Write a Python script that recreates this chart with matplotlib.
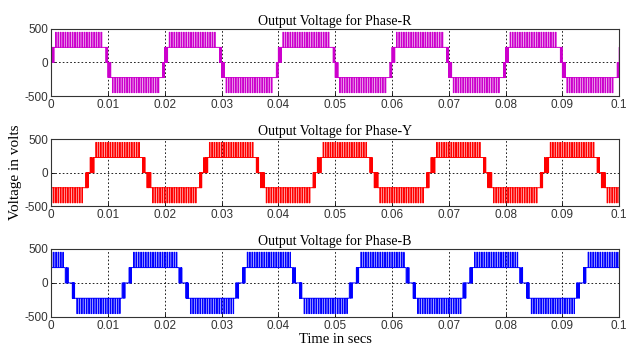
import numpy as np
import matplotlib
matplotlib.use("Agg")
import matplotlib.pyplot as plt

# level values (V)
V1 = 225.
V2 = 450.
HALF = 0.01          # half period (50 Hz)

# zero crossing (rising) of each phase
t0_R = 0.0
t0_Y = 0.00667
t0_B = 0.01333

# segments of the positive half wave, time relative to zero crossing
# kind: 'flat' / 'dense' pwm / 'sparse' pwm / 'band' pwm
R_start = [0.0,    0.0005, 0.0008, 0.0091, 0.0096]
R_end   = [0.0005, 0.0008, 0.0091, 0.0096, 0.0100]
R_lo    = [0,  V1, V1, V1, 0]
R_hi    = [V1, V1, V2, V1, V1]
R_kind  = ['dense', 'flat', 'band', 'flat', 'dense']

Y_start = [0.0,    0.0002, 0.0009, 0.0012, 0.0090, 0.0094, 0.0099]
Y_end   = [0.0002, 0.0009, 0.0012, 0.0090, 0.0094, 0.0099, 0.0100]
Y_lo    = [0, 0,  V1, V1, V1, 0,  0]
Y_hi    = [0, V1, V1, V2, V1, V1, 0]
Y_kind  = ['flat', 'sparse', 'flat', 'band', 'flat', 'dense', 'flat']

B_start = [0.0,    0.0004, 0.0008, 0.0012, 0.0088, 0.0091, 0.0098]
B_end   = [0.0004, 0.0008, 0.0012, 0.0088, 0.0091, 0.0098, 0.0100]
B_lo    = [0, 0,  V1, V1, V1, 0,  0]
B_hi    = [0, V1, V1, V2, V1, V1, 0]
B_kind  = ['flat', 'dense', 'flat', 'band', 'flat', 'sparse', 'flat']

# carrier period and duty for each pwm kind
carrier = {'dense': 0.0001, 'sparse': 0.00025, 'band': 0.00042}
duty = {'dense': 0.5, 'sparse': 0.25, 'band': 0.22}


def build(t0, starts, ends, lo, hi, kind):
    ts, vs, boxes = [], [], []
    for k in range(-3, 12):
        s = 1 if k % 2 == 0 else -1
        base = t0 + k * HALF
        for a, b, l, h, kd in zip(starts, ends, lo, hi, kind):
            a, b = base + a, base + b
            if kd == 'flat':
                ts.append(a); vs.append(s * h)
                continue
            if kd != 'dense':
                boxes.append((a, b, s * l, s * h))
            p = carrier[kd]
            for e in np.arange(a, b - 1e-9, p):
                ts.append(e); vs.append(s * h)
                ts.append(min(e + duty[kd] * p, b)); vs.append(s * l)
    ts = np.array(ts); vs = np.array(vs)
    o = np.argsort(ts, kind='stable')
    return ts[o], vs[o], boxes


phases = [('R', t0_R, R_start, R_end, R_lo, R_hi, R_kind, '#CC00CC'),
          ('Y', t0_Y, Y_start, Y_end, Y_lo, Y_hi, Y_kind, '#FF0000'),
          ('B', t0_B, B_start, B_end, B_lo, B_hi, B_kind, '#0000FF')]

fig = plt.figure(figsize=(6.39, 3.53), dpi=100)
axboxes = [[0.080, 0.728, 0.889, 0.190],
           [0.080, 0.416, 0.889, 0.190],
           [0.080, 0.102, 0.889, 0.193]]

xt = np.arange(0, 0.1001, 0.01)
xl = ['0'] + ['%g' % v for v in xt[1:]]

for (name, t0, st, en, lo, hi, kd, col), box in zip(phases, axboxes):
    ax = fig.add_axes(box)
    t, v, bands = build(t0, st, en, lo, hi, kd)
    for a, b, l, h in bands:
        ax.fill_between([a, b], l, h, color=col, alpha=0.28, lw=0)
    ax.plot(t, v, drawstyle='steps-post', color=col, lw=0.7)
    ax.set_xlim(0, 0.1)
    ax.set_ylim(-500, 500)
    ax.set_xticks(xt)
    ax.set_xticklabels(xl, family='Liberation Sans', fontsize=8.5, color='#333333')
    ax.set_yticks([-500, 0, 500])
    ax.set_yticklabels(['-500', '0', '500'], family='Liberation Sans', fontsize=8.5,
                       color='#333333')
    ax.tick_params(direction='in', length=3, width=0.6, pad=2)
    ax.grid(True, color='black', linestyle=(0, (2, 2.5)), lw=0.6)
    for sp in ax.spines.values():
        sp.set_linewidth(0.8)
        sp.set_color('#333333')
    ax.set_title('Output Voltage for Phase-' + name, family='Liberation Serif',
                 fontsize=10, pad=3)
    if name == 'Y':
        ax.set_ylabel('Voltage in volts', family='Liberation Serif', fontsize=11,
                      labelpad=2)
    if name == 'B':
        ax.set_xlabel('Time in secs', family='Liberation Serif', fontsize=10.5,
                      labelpad=1)

fig.savefig('out.png', dpi=100)
